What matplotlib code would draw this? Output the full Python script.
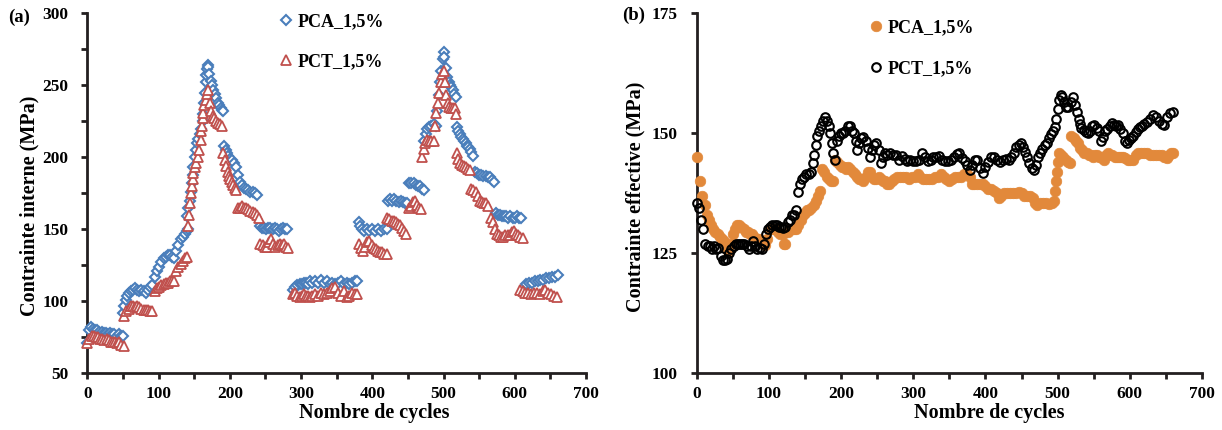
import matplotlib
matplotlib.use('Agg')
import matplotlib.pyplot as plt
from matplotlib.ticker import MultipleLocator

# ---------------- data (a) Contrainte interne ----------------
pca_a_cycles = [0, 2, 5, 8, 11, 14, 17, 20, 23, 26, 29, 32, 35, 38, 41, 44, 47, 50,
                50, 52, 54, 56, 58, 61, 64, 67, 70, 73, 76, 79, 82, 85, 88, 91,
                95, 98, 101, 104, 107, 110, 113, 116, 119, 122, 125, 128, 131, 134, 137, 140, 142,
                140, 142, 144, 145, 147, 148, 149, 151, 152, 154, 156, 158, 160, 162, 163, 164, 165,
                166, 167, 168, 169, 170, 171, 173, 175, 177, 179, 181, 183, 185, 187, 189, 191,
                192, 194, 196, 198, 200, 203, 206, 209, 212, 214, 217, 220, 223, 226, 229, 232, 235, 238,
                242, 245, 248, 251, 254, 257, 260, 263, 266, 269, 272, 275, 278, 281,
                289, 292, 295, 298, 301, 304, 307, 310, 313, 316, 320, 324, 328, 332, 336, 340, 344,
                348, 352, 356, 360, 364, 368, 372, 376, 379,
                381, 383, 386, 389, 392, 396, 400, 404, 408, 412, 416, 420,
                422, 425, 428, 431, 434, 437, 440, 443, 446, 449,
                452, 455, 458, 461, 464, 467, 470, 472,
                473, 475, 477, 480, 483, 486, 489, 491, 493, 495, 497, 499, 500, 501, 503, 505, 507,
                509, 511, 513, 515, 517,
                519, 521, 523, 525, 527, 529, 531, 533, 535, 537, 539, 541,
                544, 547, 550, 553, 556, 559, 562, 565, 568, 571,
                573, 576, 579, 582, 585, 588, 591, 594, 597, 600, 603, 606, 609,
                616, 620, 624, 628, 632, 636, 640, 644, 648, 652, 656, 660]
pca_a_values = [71, 80, 82, 81, 80, 80, 79, 79, 78, 78, 77, 78, 77, 77, 76, 77, 76, 76,
                92, 97, 101, 104, 106, 107, 108, 109, 108, 107, 108, 107, 106, 108, 110, 111,
                117, 121, 124, 127, 130, 131, 132, 132, 131, 130, 135, 139, 143, 145, 147, 149, 150,
                159, 165, 170, 176, 182, 188, 193, 200, 205, 210, 213, 216, 220, 225, 230, 238, 245,
                252, 257, 261, 264, 263, 258, 253, 250, 247, 244, 241, 238, 236, 234, 233, 232,
                208, 205, 203, 201, 199, 198, 196, 193, 188, 183, 181, 179, 178, 177, 176, 176, 175, 174,
                152, 151, 151, 150, 151, 151, 150, 151, 150, 149, 150, 151, 150, 150,
                108, 110, 111, 112, 112, 113, 113, 112, 114, 113, 114, 113, 115, 113, 114, 112, 113,
                112, 113, 114, 112, 113, 112, 113, 114, 114,
                155, 152, 150, 149, 150, 149, 150, 149, 150, 149, 150, 150,
                170, 171, 170, 171, 170, 169, 170, 169, 168, 168,
                182, 182, 182, 181, 180, 180, 178, 177,
                211, 216, 220, 221, 222, 223, 222, 232, 243, 252, 260, 268, 273, 270, 262, 256, 252,
                250, 249, 247, 244, 242,
                221, 218, 216, 214, 213, 211, 210, 208, 207, 206, 204, 201,
                190, 189, 188, 188, 187, 187, 186, 186, 184, 183,
                161, 160, 160, 159, 159, 159, 158, 159, 158, 158, 159, 158, 158,
                112, 113, 113, 114, 114, 115, 115, 116, 116, 117, 117, 118]

pct_a_cycles = [0, 3, 6, 9, 12, 15, 18, 21, 24, 27, 30, 33, 36, 39, 42, 45, 48, 51,
                52, 55, 58, 61, 64, 67, 70, 73, 76, 79, 82, 85, 88, 91,
                95, 98, 101, 104, 107, 110, 113, 116, 119, 122, 125, 128, 131, 134, 137, 140,
                142, 143, 144, 146, 147, 148, 149, 151, 153, 155, 157, 159, 160, 161, 162, 163, 164,
                166, 168, 170, 172, 174, 176, 178, 180, 183, 186, 189,
                191, 193, 195, 197, 199, 201, 203, 205, 207, 209,
                211, 214, 217, 220, 223, 226, 229, 232, 235, 238, 241,
                243, 246, 249, 252, 255, 258, 261, 264, 267, 270, 273, 276, 279, 282,
                289, 292, 295, 298, 301, 304, 307, 310, 313, 316, 320, 324, 328, 332, 336, 340, 344,
                348, 352, 356, 360, 364, 368, 372, 376, 379,
                381, 384, 387, 390, 393, 396, 399, 402, 405, 408, 411, 414, 417, 420,
                421, 424, 427, 430, 433, 436, 439, 442, 445, 448,
                451, 454, 457, 460, 463, 466, 469,
                470, 472, 474, 477, 480, 483, 486, 488, 490, 492, 494, 496, 498, 500, 502, 504, 506,
                508, 510, 513, 516, 518,
                519, 521, 523, 526, 529, 532, 535, 537,
                539, 542, 545, 548, 551, 554, 557, 560, 563,
                566, 569, 572, 575, 578, 581, 584, 587, 590, 593, 596, 599, 602, 605, 608, 611,
                607, 611, 615, 619, 623, 627, 631, 635, 639, 643, 647, 651, 655, 659]
pct_a_values = [71, 74, 76, 76, 75, 75, 74, 74, 73, 74, 73, 72, 72, 72, 71, 72, 70, 69,
                90, 93, 95, 97, 97, 96, 97, 96, 95, 94, 94, 94, 93, 93,
                107, 109, 110, 111, 112, 113, 113, 114, 114, 114, 121, 124, 126, 128, 130, 131,
                152, 160, 168, 175, 180, 185, 189, 193, 196, 200, 205, 212, 218, 222, 227, 231, 236,
                240, 244, 247, 238, 232, 229, 227, 225, 224, 223, 222,
                203, 198, 194, 190, 187, 185, 183, 181, 179, 177,
                165, 165, 166, 165, 165, 164, 163, 162, 161, 160, 158,
                140, 139, 138, 138, 141, 143, 140, 138, 139, 140, 139, 140, 138, 137,
                105, 106, 104, 103, 104, 105, 104, 104, 103, 104, 105, 104, 106, 105, 106, 107, 109,
                110, 106, 104, 107, 103, 104, 106, 105, 105,
                140, 137, 135, 138, 141, 142, 139, 137, 136, 135, 134, 134, 133, 133,
                158, 157, 156, 156, 155, 154, 153, 151, 149, 147,
                165, 166, 169, 170, 167, 165, 164,
                200, 206, 210, 212, 211, 211, 211, 222, 231, 238, 245, 252, 258, 260, 252, 243, 238,
                235, 234, 234, 234, 230,
                203, 199, 196, 195, 194, 193, 192, 191,
                178, 177, 176, 173, 170, 169, 168, 168, 166,
                158, 155, 150, 147, 146, 145, 145, 146, 146, 146, 148, 149, 147, 146, 145, 144,
                108, 107, 106, 106, 105, 106, 106, 105, 107, 108, 106, 105, 104, 103]

# ---------------- data (b) Contrainte effective ----------------
pca_b_cycles = [0, 4, 8, 11, 14, 17, 20, 23, 26, 29, 32, 35, 38, 41, 44, 47, 50, 53, 56, 59,
                62, 65, 68, 71, 74, 77, 80, 83, 86, 89, 92, 95, 98, 101, 104, 107, 110, 113,
                116, 119, 121, 123, 126, 129, 132, 135, 138, 141, 144, 147, 150, 153, 156, 159,
                162, 165, 168, 171, 174, 177, 180, 183, 186, 189, 192, 195, 198, 201, 204, 207,
                210, 213, 216, 219, 222, 225, 228, 231, 234, 237, 240, 243, 246, 249, 252, 255,
                258, 261, 264, 267, 270, 274, 278, 282, 286, 290, 294, 298, 302, 306, 310, 314,
                318, 322, 326, 330, 334, 338, 342, 346, 350, 354, 358, 362, 366, 370, 374, 378,
                381, 384, 388, 392, 396, 400, 404, 408, 412, 416, 419, 422, 426, 430, 434, 438,
                442, 446, 450, 454, 458, 462, 466, 469, 472, 476, 480, 484, 488, 492, 495, 497,
                498, 499, 500, 502, 505, 508, 511, 514, 517, 519, 522, 525, 528, 531, 534, 537,
                540, 543, 546, 549, 552, 555, 558, 561, 564, 567, 570, 573, 576, 579, 582, 585,
                588, 591, 594, 597, 600, 604, 608, 612, 616, 620, 624, 628, 632, 636, 640, 644,
                648, 651, 654, 657, 660]
pca_b_values = [145, 140, 137, 135, 133, 132, 131, 130, 129.5, 129, 128.5, 128, 127.5, 126.5,
                125.5, 127, 129, 130, 131, 131, 130.5, 130, 129.5, 129.5, 129, 129, 128.5, 128,
                128, 127.5, 127, 126.8, 128, 130, 130, 130, 130, 129.5, 129, 129, 127, 127, 129.5,
                130, 130, 130, 130, 131, 132, 133, 133.5, 134, 134, 134.5, 135, 136, 137, 138,
                142.5, 142, 141, 140.5, 140, 140, 144.5, 144, 143.5, 143, 143, 142.5, 143, 142.5,
                142, 141.5, 141, 140.5, 140.5, 140, 141, 142, 142, 141, 140.5, 140.5, 141, 140.5,
                140, 140, 139.5, 139.5, 140, 140.5, 141, 141, 141, 141, 140.5, 141, 141, 141.5,
                141, 140.5, 140.5, 140.5, 140.5, 141, 141, 141.5, 141, 140.5, 140, 140.5, 141,
                141, 141, 141.5, 141.5, 141, 139.5, 139.5, 139.5, 139.5, 139.5, 139, 138.5, 138.5,
                138, 137.5, 136.5, 137, 137.5, 137.5, 137.5, 137.5, 137.5, 137.8, 137.5, 137, 137,
                137, 136.5, 135.5, 135, 135.5, 135.5, 135.5, 135.3, 135.5, 136, 138, 140, 142, 144,
                146, 145.5, 145, 144.5, 144, 143.8, 149.5, 149, 148.5, 148, 147, 146.5, 146, 146,
                145.5, 145.5, 145, 145.5, 145.5, 145, 144.8, 144.5, 145.5, 146, 145.5, 145.5, 145,
                145, 145, 145, 145, 144.8, 144.5, 144.5, 144.5, 145.5, 146, 146, 146, 146, 145.5,
                145.5, 145.5, 145.5, 145.5, 145, 144.8, 145.5, 146, 146]

pct_b_cycles = [0, 3, 6, 9, 12, 15, 18, 21, 24, 27, 30, 33, 36, 39, 42, 45, 48, 51, 54, 57,
                60, 63, 66, 69, 72, 75, 78, 81, 84, 87, 90, 93, 96, 99, 102, 105, 108, 111, 114,
                117, 120, 123, 126, 129, 132, 135, 138, 141, 143, 146, 149, 152, 155, 158, 161,
                163, 165, 167, 169, 172, 175, 178, 181, 183, 185, 187, 189, 191, 194, 197, 200,
                203, 206, 209, 212, 215, 218, 220, 222, 225, 228, 231, 234, 237, 240, 243, 246,
                249, 252, 255, 258, 261, 264, 268, 272, 276, 280, 284, 288, 292, 296, 300, 304,
                308, 312, 316, 320, 324, 328, 332, 336, 340, 344, 348, 352, 356, 360, 364, 368,
                372, 375, 378, 382, 385, 388, 392, 396, 400, 404, 408, 412, 416, 420, 424, 428,
                432, 436, 440, 443, 446, 449, 452, 455, 458, 461, 464, 467, 470, 473, 476, 479,
                482, 485, 488, 491, 494, 496, 498, 500, 502, 504, 506, 509, 512, 515, 518, 521,
                524, 527, 529, 531, 533, 536, 539, 542, 545, 548, 551, 554, 557, 560, 563, 566,
                569, 572, 575, 578, 581, 584, 587, 590, 593, 596, 599, 602, 605, 608, 611, 614,
                617, 620, 624, 628, 632, 636, 640, 644, 648, 652, 656, 660]
pct_b_values = [135.5, 134.5, 132, 130, 127, 126.5, 126.5, 126, 126.5, 126, 126.2, 124.5,
                123.6, 123.6, 123.8, 125, 126, 126.5, 127, 127, 127, 127, 127, 126.5, 126, 126.5,
                127.5, 126.5, 126, 126.2, 126, 127, 129, 130, 130.5, 131, 131, 130.8, 130.5, 130.5,
                130.2, 130.5, 131.5, 132, 133, 133, 134, 137.8, 139.5, 140.5, 141, 141.5, 141.5,
                142, 143.8, 145.5, 147.5, 149.5, 150.5, 151.5, 152.5, 153.3, 152.5, 151.5, 150,
                148, 146, 144.5, 148.5, 149.5, 150, 150, 150.5, 151.5, 151.5, 150.5, 150, 148.5,
                146.5, 148, 149, 149.3, 148.5, 147, 145, 146.5, 147.5, 148, 146.5, 143.8, 145,
                145.8, 145.5, 145.8, 145.5, 145.5, 144.5, 145.2, 144.6, 144.2, 144.5, 144.3, 144.3,
                144.5, 146, 145, 144.3, 144.5, 145, 145, 145.2, 144.5, 144.2, 144.3, 144.4, 145,
                145.6, 145.8, 144.8, 144.3, 143.5, 142.4, 143.5, 144.4, 144.5, 142.8, 141.7, 143,
                144, 145, 145, 144.5, 144.1, 144.4, 144.6, 144.5, 145, 146, 147.2, 147.6, 147.9,
                147.2, 146.2, 145, 143.8, 142.8, 142.4, 143.5, 145, 146, 146.8, 147.5, 148, 149,
                149.8, 150.5, 151.4, 153, 155, 157, 158, 157.5, 156.5, 155.5, 155.5, 156.5, 157.5,
                156, 154.5, 153, 152, 151.2, 150.7, 150.2, 150, 150.5, 151.5, 151.7, 151.2, 150.5,
                148.5, 149.3, 150.5, 151, 151.5, 152.2, 151.8, 151.5, 151.7, 151, 150, 148.5, 148,
                148.6, 149, 149.5, 150.3, 151, 151.4, 151.6, 152, 152.3, 153, 153.8, 153.5, 152.5,
                152, 151.7, 153.5, 154.2, 154.5]

series_labels = ['PCA_1,5%', 'PCT_1,5%']
x_label = 'Nombre de cycles'
y_label_a = 'Contrainte interne (MPa)'
y_label_b = 'Contrainte effective (MPa)'

plt.rcParams['font.family'] = ['Liberation Serif', 'DejaVu Serif']
plt.rcParams['font.weight'] = 'bold'
plt.rcParams['axes.labelweight'] = 'bold'

W, H = 1222, 430
fig = plt.figure(figsize=(W / 100, H / 100), dpi=100)

axA = fig.add_axes([87.3 / W, 1 - 373.3 / H, (586 - 87.3) / W, 360 / H])
axB = fig.add_axes([696.7 / W, 1 - 373.3 / H, (1202 - 696.7) / W, 360 / H])

BLUE = '#4A7EBB'
RED = '#C0504D'
ORANGE = '#E2893B'
AXC = '#231F20'

hA1, = axA.plot(pca_a_cycles, pca_a_values, linestyle='none', marker='D', markersize=5.6,
                mfc='white', mec=BLUE, mew=1.5, clip_on=False, zorder=3)
hA2, = axA.plot(pct_a_cycles, pct_a_values, linestyle='none', marker='^', markersize=6.6,
                mfc='white', mec=RED, mew=1.3, clip_on=False, zorder=4)

hB1, = axB.plot(pca_b_cycles, pca_b_values, linestyle='none', marker='o', markersize=7.6,
                mfc=ORANGE, mec=ORANGE, mew=0.5, clip_on=False, zorder=3)
hB2, = axB.plot(pct_b_cycles, pct_b_values, linestyle='none', marker='o', markersize=6.2,
                mfc='none', mec='black', mew=1.5, clip_on=False, zorder=4)

for ax, (lo, hi, step, minor) in ((axA, (50, 300, 50, 25)), (axB, (100, 175, 25, None))):
    ax.set_xlim(0, 700)
    ax.set_ylim(lo, hi)
    ax.xaxis.set_major_locator(MultipleLocator(100))
    ax.xaxis.set_minor_locator(MultipleLocator(50))
    ax.yaxis.set_major_locator(MultipleLocator(step))
    if minor:
        ax.yaxis.set_minor_locator(MultipleLocator(minor))
    for s in ('top', 'right'):
        ax.spines[s].set_visible(False)
    for s in ('left', 'bottom'):
        ax.spines[s].set_linewidth(2.0)
        ax.spines[s].set_color(AXC)
    ax.tick_params(which='both', direction='out', length=4.5, width=2.0, color=AXC)
    ax.tick_params(axis='y', which='major', labelsize=12.5, pad=9)
    ax.tick_params(axis='x', which='major', labelsize=12.5, pad=5)
    ax.set_facecolor('none')
    for lab in ax.get_xticklabels() + ax.get_yticklabels():
        lab.set_fontweight('bold')

axA.set_xlabel(x_label, fontsize=14.5, fontweight='bold')
axB.set_xlabel(x_label, fontsize=14.5, fontweight='bold')
axA.set_ylabel(y_label_a, fontsize=14.5, fontweight='bold')
axB.set_ylabel(y_label_b, fontsize=14.5, fontweight='bold')
axA.xaxis.set_label_coords(0.575, -0.082)
axB.xaxis.set_label_coords(0.578, -0.082)
axA.yaxis.set_label_coords(-0.095, 0.465)
axB.yaxis.set_label_coords(-0.102, 0.49)

fig.text(8 / W, 1 - 17 / H, '(a)', fontsize=13.5, fontweight='bold', va='center', ha='left')
fig.text(622 / W, 1 - 15 / H, '(b)', fontsize=13.5, fontweight='bold', va='center', ha='left')

legA = axA.legend([hA1, hA2], series_labels, loc='upper left', bbox_to_anchor=(280 / W, 1 - 13 / H),
                  bbox_transform=fig.transFigure, frameon=False, fontsize=13, handlelength=0.7,
                  handletextpad=0.25, labelspacing=1.3, borderpad=0, borderaxespad=0)
legB = axB.legend([hB1, hB2], series_labels, loc='upper left', bbox_to_anchor=(870 / W, 1 - 19 / H),
                  bbox_transform=fig.transFigure, frameon=False, fontsize=13, handlelength=0.7,
                  handletextpad=0.25, labelspacing=1.35, borderpad=0, borderaxespad=0)
for leg in (legA, legB):
    for t in leg.get_texts():
        t.set_fontweight('bold')

fig.savefig('out.png', dpi=100)
